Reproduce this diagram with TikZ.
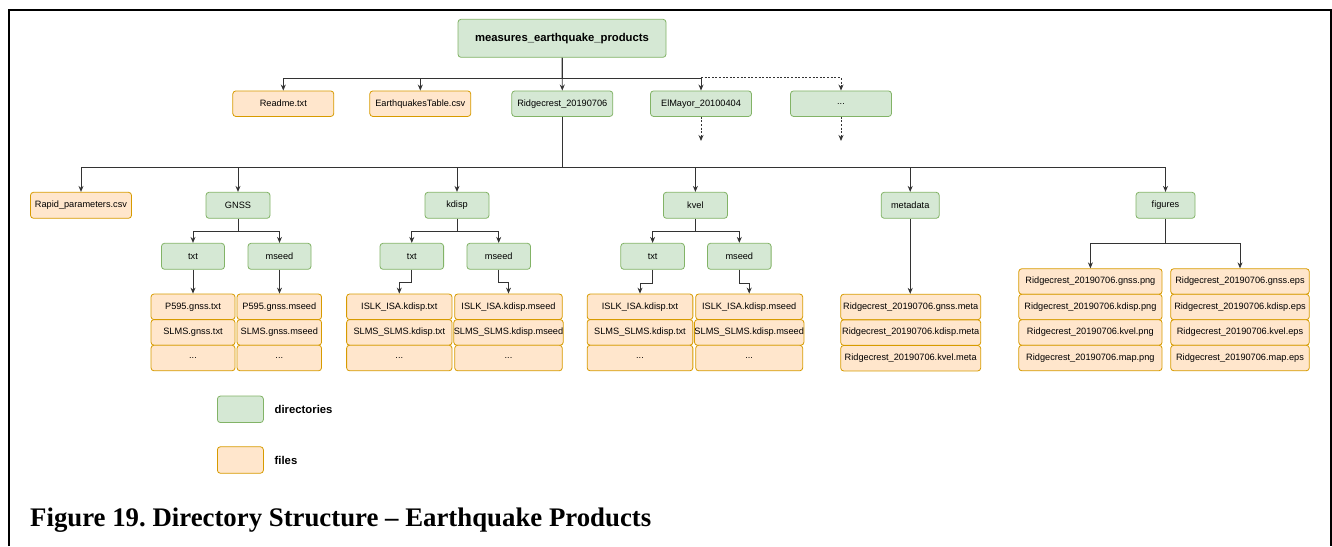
\documentclass[tikz,border=0pt]{standalone}
\usepackage{fontspec}
\setmainfont{Liberation Sans}
\newfontfamily\capfont[Ligatures=TeX]{Liberation Serif}
\usetikzlibrary{arrows.meta}
\definecolor{dirfill}{HTML}{D5E8D4}
\definecolor{dirline}{HTML}{82B366}
\definecolor{filefill}{HTML}{FFE6CC}
\definecolor{fileline}{HTML}{D79B00}
\definecolor{wire}{HTML}{333333}
\frenchspacing
\begin{document}
\begin{tikzpicture}[x=1pt, y=-1pt,
  dir/.style={draw=dirline, fill=dirfill, rounded corners=3pt, line width=0.8pt,
    inner sep=0pt, font=\fontsize{9.2}{10}\selectfont},
  file/.style={draw=fileline, fill=filefill, rounded corners=3pt, line width=0.8pt,
    inner sep=0pt, font=\fontsize{9.2}{10}\selectfont},
  conn/.style={draw=wire, line width=0.9pt, -{Stealth[length=6pt,width=5pt]}},
  dots/.style={dash pattern=on 2pt off 1.6pt}]
\useasboundingbox (0,0) rectangle (1332,546);
\draw[line width=2pt] (9,546) -- (9,9.5) -- (1330.5,9.5) -- (1330.5,546);

% top level
\node[dir, minimum width=208, minimum height=38, font=\fontsize{11.3}{13}\selectfont\bfseries] (root) at (562,38.3) {measures\_earthquake\_products};
\node[file, minimum width=101, minimum height=25.5] (readme) at (283.3,103.7) {Readme.txt};
\node[file, minimum width=101, minimum height=25.5] (table) at (420.3,103.7) {EarthquakesTable.csv};
\node[dir, minimum width=101, minimum height=25.5] (ridge) at (562.3,103.7) {Ridgecrest\_20190706};
\node[dir, minimum width=101, minimum height=25.5] (elmayor) at (701,103.7) {ElMayor\_20100404};
\node[dir, minimum width=101, minimum height=25.5] (more) at (841,103.7) {...};
\coordinate (elend) at (701,141);
\coordinate (moreend) at (841,141);

\path[conn] (root.south) -- ++(0,21) -| (readme.north);
\path[conn] (root.south) -- ++(0,21) -| (table.north);
\path[conn] (root.south) -- (ridge.north);
\path[conn] (root.south) -- ++(0,21) -| (elmayor.north);
\path[conn, dots] (elmayor.north) ++(0,-12.7) -| (more.north);
\path[conn, dots] (elmayor.south) -- (elend);
\path[conn, dots] (more.south) -- (moreend);

% event folder
\node[file, minimum width=101, minimum height=26] (rapid) at (81,205.3) {Rapid\_parameters.csv};
\node[dir, minimum width=64, minimum height=26] (gnss) at (238,205.3) {GNSS};
\node[dir, minimum width=64, minimum height=26] (kdisp) at (457,205.3) {kdisp};
\node[dir, minimum width=64, minimum height=26] (kvel) at (695.4,205.3) {kvel};
\node[dir, minimum width=58, minimum height=26] (meta) at (910.2,205.3) {metadata};
\node[dir, minimum width=59, minimum height=26] (fig) at (1165.5,205.3) {figures};

\path[conn] (ridge.south) -- ++(0,50.8) -| (rapid.north);
\path[conn] (ridge.south) -- ++(0,50.8) -| (gnss.north);
\path[conn] (ridge.south) -- ++(0,50.8) -| (kdisp.north);
\path[conn] (ridge.south) -- ++(0,50.8) -| (kvel.north);
\path[conn] (ridge.south) -- ++(0,50.8) -| (meta.north);
\path[conn] (ridge.south) -- ++(0,50.8) -| (fig.north);

% GNSS
\node[dir, minimum width=63, minimum height=26] (gtxt) at (193,256.3) {txt};
\node[dir, minimum width=63, minimum height=26] (gmseed) at (279.5,256.3) {mseed};
\node[file, minimum width=84, minimum height=25.6] (g1) at (193,306.8) {P595.gnss.txt};
\node[file, minimum width=84, minimum height=25.6] (g2) at (193,332.4) {SLMS.gnss.txt};
\node[file, minimum width=84, minimum height=25.6] (g3) at (193,358) {...};
\node[file, minimum width=84.5, minimum height=25.6] (g4) at (279.3,306.8) {P595.gnss.mseed};
\node[file, minimum width=84.5, minimum height=25.6] (g5) at (279.3,332.4) {SLMS.gnss.mseed};
\node[file, minimum width=84.5, minimum height=25.6] (g6) at (279.3,358) {...};

\path[conn] (gnss.south) -- ++(0,12.4) -| (gtxt.north);
\path[conn] (gnss.south) -- ++(0,12.4) -| (gmseed.north);
\path[conn] (gtxt.south) -- (gtxt.south |- g1.north);
\path[conn] (gmseed.south) -- (gmseed.south |- g4.north);

% kdisp
\node[dir, minimum width=63.6, minimum height=26] (ktxt) at (411.8,256.3) {txt};
\node[dir, minimum width=63.6, minimum height=26] (kmseed) at (498.7,256.3) {mseed};
\node[file, minimum width=105.4, minimum height=25.6] (k1) at (399.3,306.8) {ISLK\_ISA.kdisp.txt};
\node[file, minimum width=105.4, minimum height=25.6] (k2) at (399.3,332.4) {SLMS\_SLMS.kdisp.txt};
\node[file, minimum width=105.4, minimum height=25.6] (k3) at (399.3,358) {...};
\node[file, minimum width=107.6, minimum height=25.6] (k4) at (508.5,306.8) {ISLK\_ISA.kdisp.mseed};
\node[file, minimum width=107.6, minimum height=25.6] (k5) at (508.5,332.4) {SLMS\_SLMS.kdisp.mseed};
\node[file, minimum width=107.6, minimum height=25.6] (k6) at (508.5,358) {...};

\path[conn] (kdisp.south) -- ++(0,12.4) -| (ktxt.north);
\path[conn] (kdisp.south) -- ++(0,12.4) -| (kmseed.north);
\path[conn] (ktxt.south) -- ++(0,12.7) -| (k1.north);
\path[conn] (kmseed.south) -- ++(0,12.7) -| (k4.north);

% kvel
\node[dir, minimum width=63.6, minimum height=26] (vtxt) at (652.6,256.3) {txt};
\node[dir, minimum width=63.6, minimum height=26] (vmseed) at (739.3,256.3) {mseed};
\node[file, minimum width=105.7, minimum height=25.6] (v1) at (640,306.8) {ISLK\_ISA.kdisp.txt};
\node[file, minimum width=105.7, minimum height=25.6] (v2) at (640,332.4) {SLMS\_SLMS.kdisp.txt};
\node[file, minimum width=105.7, minimum height=25.6] (v3) at (640,358) {...};
\node[file, minimum width=107, minimum height=25.6] (v4) at (749.2,306.8) {ISLK\_ISA.kdisp.mseed};
\node[file, minimum width=107, minimum height=25.6] (v5) at (749.2,332.4) {SLMS\_SLMS.kdisp.mseed};
\node[file, minimum width=107, minimum height=25.6] (v6) at (749.2,358) {...};

\path[conn] (kvel.south) -- ++(0,12.4) -| (vtxt.north);
\path[conn] (kvel.south) -- ++(0,12.4) -| (vmseed.north);
\path[conn] (vtxt.south) -- ++(0,13.5) -| (v1.north);
\path[conn] (vmseed.south) -- ++(0,13.5) -| (v4.north);

% metadata
\node[file, minimum width=140, minimum height=25.5] (m1) at (910.7,307) {Ridgecrest\_20190706.gnss.meta};
\node[file, minimum width=140, minimum height=25.5] (m2) at (910.7,332.6) {Ridgecrest\_20190706.kdisp.meta};
\node[file, minimum width=140, minimum height=25.5] (m3) at (910.7,358.2) {Ridgecrest\_20190706.kvel.meta};

\path[conn] (meta.south) -- (meta.south |- m1.north);

% figures
\node[file, minimum width=143.3, minimum height=25.5] (p1) at (1090.4,281.5) {Ridgecrest\_20190706.gnss.png};
\node[file, minimum width=143.3, minimum height=25.5] (p2) at (1090.4,307) {Ridgecrest\_20190706.kdisp.png};
\node[file, minimum width=143.3, minimum height=25.5] (p3) at (1090.4,332.5) {Ridgecrest\_20190706.kvel.png};
\node[file, minimum width=143.3, minimum height=25.5] (p4) at (1090.4,358) {Ridgecrest\_20190706.map.png};
\node[file, minimum width=138.6, minimum height=25.5] (e1) at (1240,281.5) {Ridgecrest\_20190706.gnss.eps};
\node[file, minimum width=138.6, minimum height=25.5] (e2) at (1240,307) {Ridgecrest\_20190706.kdisp.eps};
\node[file, minimum width=138.6, minimum height=25.5] (e3) at (1240,332.5) {Ridgecrest\_20190706.kvel.eps};
\node[file, minimum width=138.6, minimum height=25.5] (e4) at (1240,358) {Ridgecrest\_20190706.map.eps};

\path[conn] (fig.south) -- ++(0,25) -| (p1.north);
\path[conn] (fig.south) -- ++(0,25) -| (e1.north);

% legend
\node[dir, minimum width=46, minimum height=26.5] (legdir) at (240.4,409.3) {};
\node[anchor=west, inner sep=0pt, font=\fontsize{11.3}{13}\selectfont\bfseries] (legdirtxt) at (274.5,409.3) {directories};
\node[file, minimum width=46, minimum height=26.5] (legfile) at (240.4,460) {};
\node[anchor=west, inner sep=0pt, font=\fontsize{11.3}{13}\selectfont\bfseries] (legfiletxt) at (274.5,460) {files};

% caption
\node[anchor=base west, inner sep=0pt, font=\capfont\bfseries\fontsize{26.8}{30}\selectfont] (caption) at (30,526) {Figure 19. Directory Structure – Earthquake Products};
\end{tikzpicture}
\end{document}
